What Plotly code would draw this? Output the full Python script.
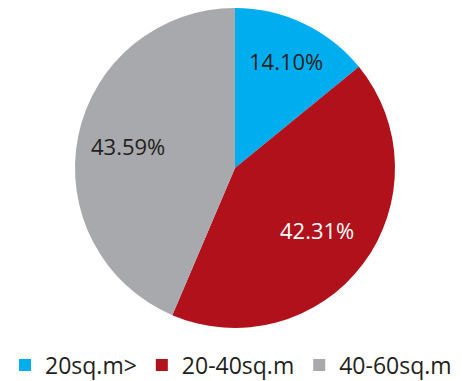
import math
import plotly.graph_objects as go

categories = ["20sq.m>", "20-40sq.m", "40-60sq.m"]
values = [14.10, 42.31, 43.59]
colors = ["#00AEEF", "#B0111A", "#A7A9AC"]
text_colors = ["#231F20", "#FFFFFF", "#231F20"]
label_radius = [0.74, 0.64, 0.68]  # fraction of the pie radius where each label sits

W, H = 462, 381
cx, cy, r = 235, 168, 160

fig = go.Figure(go.Pie(
    labels=categories,
    values=values,
    textinfo="none",
    textposition="none",
    marker=dict(colors=colors, line=dict(width=0)),
    sort=False,
    direction="clockwise",
    rotation=0,
    hole=0,
    hoverinfo="label+percent",
    domain=dict(x=[(cx - r) / W, (cx + r) / W], y=[1 - (cy + r) / H, 1 - (cy - r) / H]),
))

total = sum(values)
start = 0.0
for v, col, f in zip(values, text_colors, label_radius):
    mid = (start + v / 2) / total * 2 * math.pi
    start += v
    px = cx + r * f * math.sin(mid)
    py = cy - r * f * math.cos(mid)
    fig.add_annotation(
        x=px / W, y=1 - py / H, xref="paper", yref="paper",
        text=f"{v:.2f}%", showarrow=False,
        font=dict(family="Open Sans", size=22, color=col),
        xanchor="center", yanchor="middle",
    )

fig.update_layout(
    width=W, height=H,
    margin=dict(l=0, r=0, t=0, b=0, autoexpand=False),
    paper_bgcolor="white",
    plot_bgcolor="white",
    font=dict(family="Open Sans", size=23, color="#231F20"),
    legend=dict(orientation="h", x=0.5, xanchor="center",
                yref="container", y=1 - 365 / H, yanchor="middle",
                font=dict(size=23), itemwidth=30),
)

fig.write_html("out.html", config={"displayModeBar": False},
               post_script="document.body.style.margin='0';")
